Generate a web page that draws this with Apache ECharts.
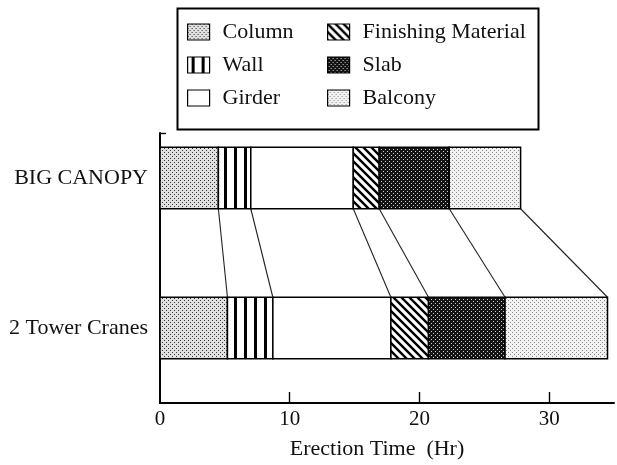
<!DOCTYPE html>
<html>
<head>
<meta charset="utf-8">
<script src="https://cdn.jsdelivr.net/npm/echarts@6.0.0/dist/echarts.min.js"></script>
<style>
html, body { margin: 0; padding: 0; background: #fff; }
#chart { width: 617px; height: 465px; }
</style>
</head>
<body>
<div id="chart"></div>
<script>
// two methods, erection time per component (hours)
const categories = ['BIG CANOPY', '2 Tower Cranes'];
const column    = [4.5, 5.2];
const wall      = [2.5, 3.5];
const girder    = [7.9, 9.1];
const finishing = [2.0, 2.9];
const slab      = [5.4, 5.9];
const balcony   = [5.5, 7.9];
const xTicks = [0, 10, 20, 30];

const names = ['Column', 'Wall', 'Girder', 'Finishing Material', 'Slab', 'Balcony'];
const parts = [column, wall, girder, finishing, slab, balcony];

// where each bar sits on the hidden value y axis
const yPos = [3, 1];
const barH = 0.82;
const FONT = 'Liberation Serif';

// little canvas patterns for the fills
function pat(w, h, draw) {
    const c = document.createElement('canvas');
    c.width = w; c.height = h;
    const ctx = c.getContext('2d');
    draw(ctx);
    return { image: c, repeat: 'repeat' };
}
const fills = [
    pat(4, 4, ctx => { // column: grey stipple
        ctx.fillStyle = '#e0e0e0'; ctx.fillRect(0, 0, 4, 4);
        ctx.fillStyle = '#3a3a3a'; ctx.fillRect(0, 0, 1, 1); ctx.fillRect(2, 2, 1, 1);
    }),
    pat(10, 4, ctx => { // wall: vertical bars
        ctx.fillStyle = '#fff'; ctx.fillRect(0, 0, 10, 4);
        ctx.fillStyle = '#000'; ctx.fillRect(4, 0, 3, 4);
    }),
    '#ffffff', // girder
    pat(8, 8, ctx => { // finishing: diagonal hatching
        ctx.fillStyle = '#fff'; ctx.fillRect(0, 0, 8, 8);
        ctx.strokeStyle = '#000'; ctx.lineWidth = 2.4;
        ctx.beginPath();
        ctx.moveTo(-2, -2); ctx.lineTo(10, 10);
        ctx.moveTo(-10, -2); ctx.lineTo(2, 10);
        ctx.moveTo(6, -2); ctx.lineTo(18, 10);
        ctx.stroke();
    }),
    pat(4, 4, ctx => { // slab: dark check
        ctx.fillStyle = '#141414'; ctx.fillRect(0, 0, 4, 4);
        ctx.fillStyle = '#d0d0d0'; ctx.fillRect(1, 1, 1, 1); ctx.fillRect(3, 3, 1, 1);
    }),
    pat(4, 4, ctx => { // balcony: light stipple
        ctx.fillStyle = '#f2f2f2'; ctx.fillRect(0, 0, 4, 4);
        ctx.fillStyle = '#8a8a8a'; ctx.fillRect(0, 0, 1, 1); ctx.fillRect(2, 2, 1, 1);
    })
];

// running totals give the segment edges
const starts = [], ends = [];
categories.forEach((c, k) => {
    let t = 0;
    parts.forEach((p, i) => {
        (starts[i] = starts[i] || [])[k] = t;
        t += p[k];
        (ends[i] = ends[i] || [])[k] = t;
    });
});

function barItem(params, api) {
    const a = api.coord([api.value(0), api.value(2)]);
    const b = api.coord([api.value(1), api.value(2)]);
    const h = api.size([0, barH])[1];
    return {
        type: 'rect',
        shape: { x: a[0], y: a[1] - h / 2, width: b[0] - a[0], height: h },
        style: api.style({ stroke: '#000', lineWidth: 1.5 })
    };
}

const series = names.map((n, i) => ({
    name: n,
    type: 'custom',
    renderItem: barItem,
    itemStyle: { color: fills[i], borderColor: '#000', borderWidth: 1.5 },
    encode: { x: [0, 1], y: 2 },
    data: categories.map((c, k) => [starts[i][k], ends[i][k], yPos[k]])
}));

// thin lines joining the segment edges of the two bars
series.push({
    type: 'custom',
    silent: true,
    encode: { x: [0, 1], y: 2 },
    renderItem: (params, api) => {
        const h = api.size([0, barH])[1];
        const a = api.coord([api.value(0), yPos[0]]);
        const b = api.coord([api.value(1), yPos[1]]);
        return {
            type: 'line',
            shape: { x1: a[0], y1: a[1] + h / 2, x2: b[0], y2: b[1] - h / 2 },
            style: { stroke: '#222', lineWidth: 1.1 }
        };
    },
    data: ends.map(e => [e[0], e[1], yPos[1]])
});

const legendBase = {
    orient: 'vertical',
    top: 16,
    itemWidth: 22,
    itemHeight: 16,
    itemGap: 11,
    icon: 'rect',
    selectedMode: false,
    itemStyle: { borderColor: '#000', borderWidth: 1.2 },
    textStyle: { fontFamily: FONT, fontSize: 22, lineHeight: 22, color: '#111', padding: [0, 0, 0, 8] }
};

const chart = echarts.init(document.getElementById('chart'));
chart.setOption({
    animation: false,
    backgroundColor: '#fff',
    grid: { left: 160, right: 3, top: 133, bottom: 62 },
    legend: [
        Object.assign({}, legendBase, { left: 182, data: names.slice(0, 3) }),
        Object.assign({}, legendBase, { left: 322, data: names.slice(3) })
    ],
    graphic: [{
        type: 'rect',
        left: 175, top: 6,
        shape: { width: 361, height: 121 },
        style: { fill: 'none', stroke: '#000', lineWidth: 2 }
    }],
    xAxis: {
        type: 'value',
        min: 0, max: 35,
        axisLine: { lineStyle: { color: '#000', width: 2 } },
        axisTick: { inside: true, length: 11, customValues: xTicks.slice(1), lineStyle: { color: '#000', width: 1.4 } },
        axisLabel: { customValues: xTicks, margin: 6, fontFamily: FONT, fontSize: 21, color: '#111' },
        splitLine: { show: false },
        name: 'Erection Time  (Hr)',
        nameLocation: 'middle',
        nameGap: 35,
        nameTextStyle: { fontFamily: FONT, fontSize: 22, color: '#111', padding: [0, 20, 0, 0] }
    },
    yAxis: {
        type: 'value',
        min: 0, max: 3.6,
        axisLine: { show: true, lineStyle: { color: '#000', width: 2 } },
        axisTick: { show: true, inside: true, length: 6, customValues: [3.6], lineStyle: { color: '#000', width: 1.4 } },
        axisLabel: {
            customValues: yPos,
            margin: 12,
            fontFamily: FONT, fontSize: 22, color: '#111',
            formatter: v => categories[yPos.indexOf(v)] || ''
        },
        splitLine: { show: false }
    },
    series: series
});
</script>
</body>
</html>
